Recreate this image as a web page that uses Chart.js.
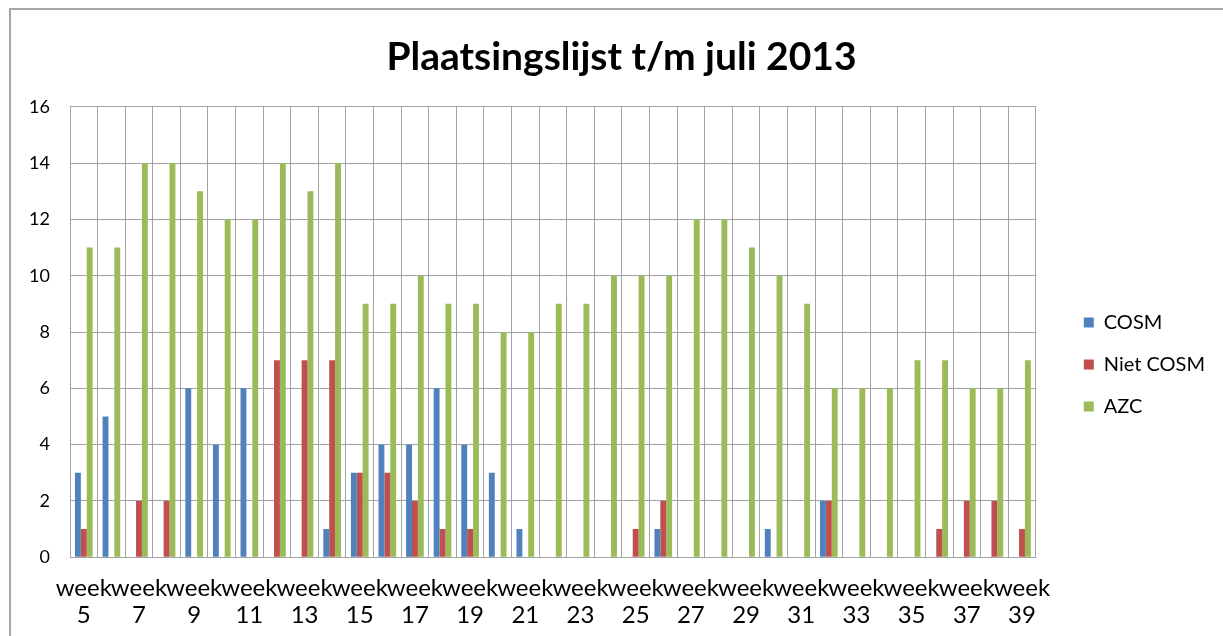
<!DOCTYPE html>
<html>
<head>
<meta charset="utf-8">
<script src="https://cdn.jsdelivr.net/npm/chart.js@4.4.1/dist/chart.umd.min.js"></script>
<style>
html, body { margin: 0; padding: 0; background: #fff; overflow: hidden; }
#kader { position: absolute; left: 9px; top: 8px; width: 1300px; height: 700px; border: 2px solid #a6a6a6; box-sizing: border-box; }
#wrap { position: absolute; left: 0; top: 0; width: 1223px; height: 636px; }
</style>
</head>
<body>
<div id="kader"></div>
<div id="wrap"><canvas id="grafiek"></canvas></div>
<script>
// Weken (categorieen)
const weken = [5,6,7,8,9,10,11,12,13,14,15,16,17,18,19,20,21,22,23,24,25,26,27,28,29,30,31,32,33,34,35,36,37,38,39];

// Reeksen
const cosm     = [3,5,0,0,6,4,6,0,0,1,3,4,4,6,4,3,1,0,0,0,0,1,0,0,0,1,0,2,0,0,0,0,0,0,0];
const nietCosm = [1,0,2,2,0,0,0,7,7,7,3,3,2,1,1,0,0,0,0,0,1,2,0,0,0,0,0,2,0,0,0,1,2,2,1];
const azc      = [11,11,14,14,13,12,12,14,13,14,9,9,10,9,9,8,8,9,9,10,10,10,12,12,11,10,9,6,6,6,7,7,6,6,7];

// As y
const yMin = 0, yMax = 16, yStap = 2;

const fontNaam = 'Lato, "Open Sans", sans-serif';
const rasterKleur = '#a3a3a3';

const grafiek = new Chart(document.getElementById('grafiek').getContext('2d'), {
    type: 'bar',
    data: {
        labels: weken.map(w => 'week ' + w),
        datasets: [
            { label: 'COSM', data: cosm, backgroundColor: '#4F81BD' },
            { label: 'Niet COSM', data: nietCosm, backgroundColor: '#C0504D' },
            { label: 'AZC', data: azc, backgroundColor: '#9BBB59' }
        ]
    },
    options: {
        responsive: true,
        maintainAspectRatio: false,
        animation: false,
        layout: { padding: { left: 28, right: 8, bottom: -11 } },
        datasets: { bar: { categoryPercentage: 0.64, barPercentage: 1.0 } },
        plugins: {
            title: {
                display: true,
                text: 'Plaatsingslijst t/m juli 2013',
                color: '#000',
                font: { family: fontNaam, size: 39, weight: 'bold' },
                padding: { top: 34, bottom: 26 }
            },
            legend: {
                position: 'right',
                align: 'center',
                // lege titel schuift de items omlaag
                title: { display: true, text: '', font: { size: 10 }, padding: { top: 70, bottom: 0 } },
                labels: {
                    boxWidth: 10,
                    boxHeight: 10,
                    padding: 22,
                    color: '#000',
                    font: { family: fontNaam, size: 20 }
                }
            },
            tooltip: { enabled: false }
        },
        scales: {
            x: {
                offset: true,
                grid: { color: rasterKleur, offset: true, drawTicks: false },
                border: { color: rasterKleur },
                ticks: {
                    autoSkip: false,
                    maxRotation: 0,
                    minRotation: 0,
                    padding: 18,
                    color: '#000',
                    font: { family: fontNaam, size: 24, lineHeight: 1.12 },
                    callback: (v, i) => i % 2 === 0 ? ['week', String(weken[i])] : ''
                }
            },
            y: {
                min: yMin,
                max: yMax,
                grid: { color: rasterKleur, drawTicks: false },
                border: { color: rasterKleur },
                ticks: {
                    stepSize: yStap,
                    padding: 20,
                    color: '#000',
                    font: { family: fontNaam, size: 18 }
                },
                afterFit: s => { s.width = 42; }
            },
            yRechts: {
                position: 'right',
                display: true,
                grid: { display: false },
                border: { display: false },
                ticks: { display: false },
                afterFit: s => { s.width = 26; }
            }
        }
    }
});
</script>
</body>
</html>
